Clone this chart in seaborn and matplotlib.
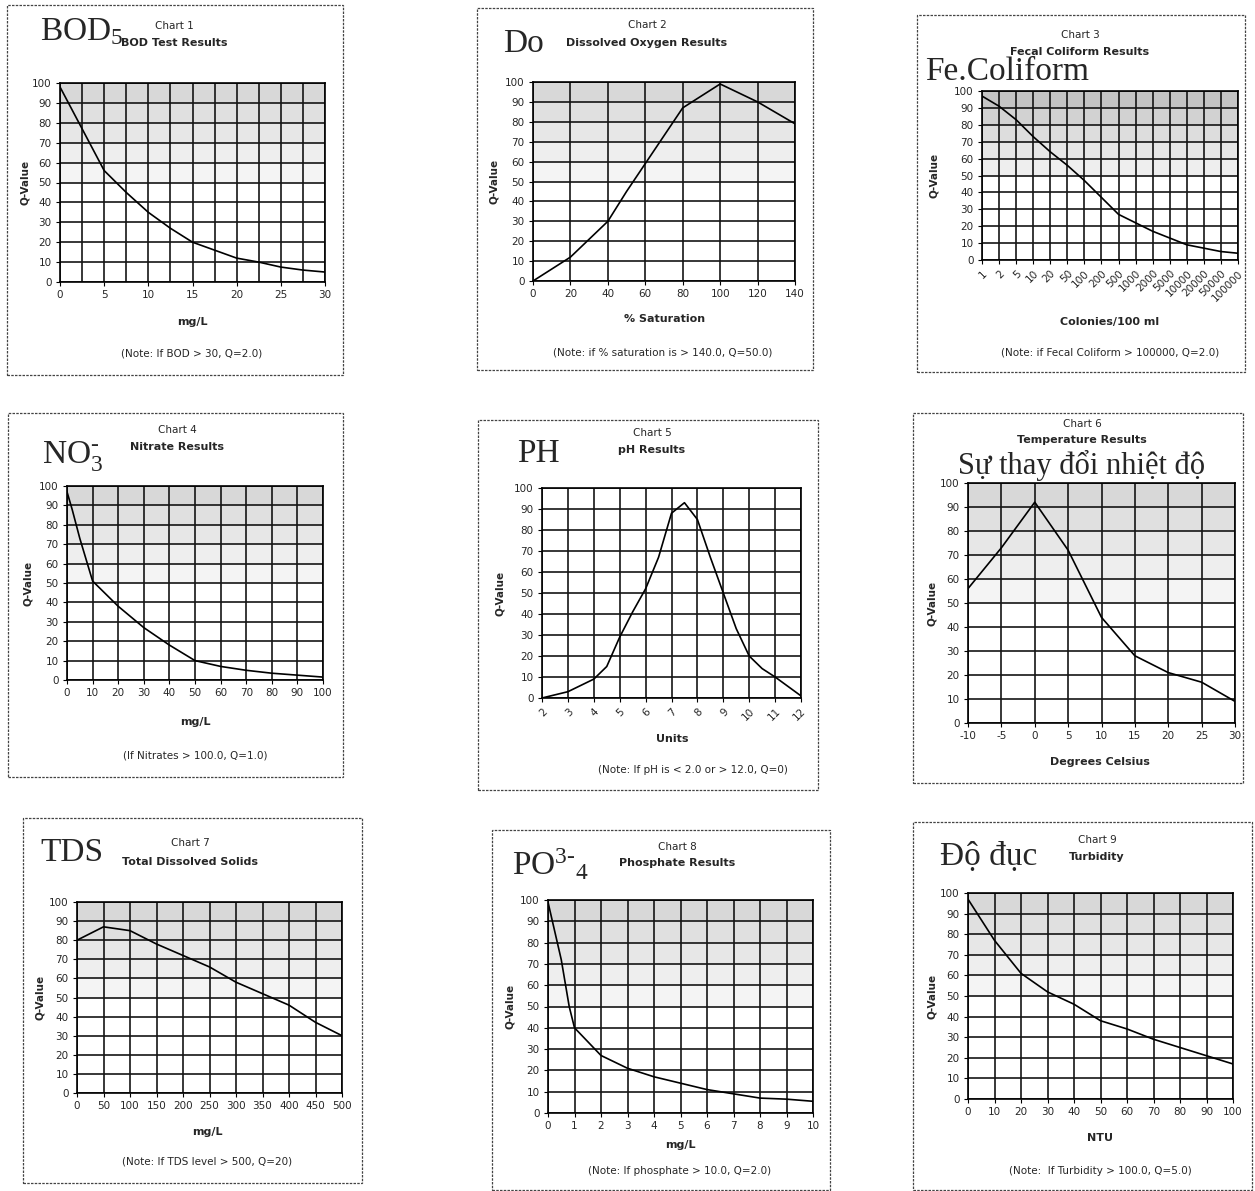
import numpy as np
import matplotlib
matplotlib.use("Agg")
import matplotlib.pyplot as plt
import seaborn as sns
from matplotlib.patches import Rectangle

W, H = 1255, 1191

# ---------------------------------------------------------------- data
bod_x = [0, 2.5, 5, 7.5, 10, 12.5, 15, 17.5, 20, 22.5, 25, 27.5, 30]
bod_q = [98, 77, 56, 45, 35, 27, 20, 16, 12, 10, 7.5, 6, 5]

do_x = [0, 10, 20, 30, 40, 50, 60, 70, 80, 90, 100, 120, 140]
do_q = [0, 6, 12, 21, 30, 45, 59, 73, 87, 93, 99, 90, 79]

fc_labels = ["1", "2", "5", "10", "20", "50", "100", "200", "500", "1000",
             "2000", "5000", "10000", "20000", "50000", "100000"]
fc_q = [97, 91, 83, 73, 64, 56, 47, 37, 27, 22, 17, 13, 9, 7, 5, 4]

no3_x = [0, 2, 5, 10, 20, 30, 40, 50, 60, 70, 80, 90, 100]
no3_q = [97, 88, 73, 51, 38, 27, 18, 10, 7, 5, 3.5, 2.5, 1.5]

ph_x = [2, 3, 4, 4.5, 5, 5.5, 6, 6.5, 7, 7.5, 8, 8.5, 9, 9.5, 10, 10.5, 11, 12]
ph_q = [0, 3, 9, 15, 29, 41, 52, 67, 88, 93, 85, 67, 50, 33, 20, 14, 10, 1]

temp_x = [-10, -5, 0, 5, 10, 15, 20, 25, 30]
temp_q = [56, 73, 92, 72, 44, 28, 21, 17, 9]

tds_x = [0, 50, 100, 150, 200, 250, 300, 350, 400, 450, 500]
tds_q = [80, 87, 85, 78, 72, 66, 58, 52, 46, 37, 30]

po4_x = [0, 0.5, 0.8, 1, 2, 3, 4, 5, 6, 7, 8, 9, 10]
po4_q = [99, 72, 50, 40, 27, 21, 17, 14, 11, 9, 7, 6.5, 5.5]

tur_x = [0, 10, 20, 30, 40, 50, 60, 70, 80, 90, 100]
tur_q = [97, 77, 61, 52, 46, 38, 34, 29, 25, 21, 17]

# ---------------------------------------------------------------- style
sns.set_style("white")
plt.rcParams['font.family'] = ['DejaVu Sans']
plt.rcParams['axes.unicode_minus'] = False
plt.rcParams['mathtext.fontset'] = 'custom'
plt.rcParams['mathtext.rm'] = 'Liberation Serif'
plt.rcParams['mathtext.it'] = 'Liberation Serif:italic'
plt.rcParams['mathtext.bf'] = 'Liberation Serif:bold'

SERIF = ['Liberation Serif', 'DejaVu Serif']
TICK = 7.5
LAB = 8
NOTE = 7.5
BIG = 24

fig = plt.figure(figsize=(W / 100, H / 100), dpi=100)
fig.patch.set_facecolor('white')


def fx(x):
    return x / W


def fy(y):
    return 1 - y / H


def ftext(x, y, s, **kw):
    fig.text(fx(x), fy(y), s, **kw)


def chart(box, axbox, x, y, big, big_pos, num, title, title_cx, title_y,
          xlabel, xlabel_pos, note=None, note_pos=None, xlim=None,
          major=None, minor=None, shade="normal", ylab_x=None,
          rot_labels=None, big_size=BIG):
    # panel frame
    l, t, r, b = box
    fig.add_artist(Rectangle((fx(l), fy(b)), fx(r - l), (b - t) / H,
                             transform=fig.transFigure, fill=False,
                             ec='#444444', lw=0.9, ls=(0, (2, 1))))
    al, at, ar, ab = axbox
    ax = fig.add_axes([fx(al), fy(ab), fx(ar - al), (ab - at) / H])

    # stippled grey background, darker toward the top
    if shade == "normal":
        greys = ['#f4f4f4', '#eeeeee', '#e7e7e7', '#e0e0e0', '#d8d8d8']
    elif shade == "dark":
        greys = ['#eeeeee', '#e6e6e6', '#dddddd', '#d2d2d2', '#c4c4c4']
    else:
        greys = []
    for i, c in enumerate(greys):
        ax.axhspan(50 + 10 * i, 60 + 10 * i, color=c, lw=0, zorder=0)

    sns.lineplot(x=x, y=y, ax=ax, color='black', lw=1.2, zorder=5,
                 sort=False)

    ax.set_ylim(0, 100)
    ax.set_yticks(np.arange(0, 101, 10))
    if xlim is not None:
        ax.set_xlim(*xlim)
    if major is not None:
        ax.set_xticks(major)
    if minor is not None:
        ax.set_xticks(minor, minor=True)
    if rot_labels is not None:
        ax.set_xticks(range(len(rot_labels)))
        ax.set_xticklabels(rot_labels, rotation=45, ha='right',
                           rotation_mode='anchor')

    ax.grid(True, which='both', color='#151515', lw=1.2, zorder=1)
    ax.set_axisbelow(True)
    for sp in ax.spines.values():
        sp.set_color('black')
        sp.set_linewidth(1.2)
    ax.tick_params(axis='both', which='major', direction='out', length=3,
                   width=0.8, labelsize=TICK, pad=3, color='black',
                   left=True, bottom=True)
    ax.tick_params(axis='x', which='minor', length=0)
    ax.set_xlabel('')
    ax.set_ylabel('')

    # labels around the plot
    if ylab_x is None:
        ylab_x = al - 37
    ftext(ylab_x, (at + ab) / 2, 'Q-Value', rotation=90, ha='center',
          va='center', fontsize=LAB - 0.5, fontweight='bold')
    ftext(big_pos[0], big_pos[1], big, family=SERIF, fontsize=big_size,
          ha=big_pos[2] if len(big_pos) > 2 else 'left', va='baseline')
    ftext(title_cx, title_y[0], num, ha='center', va='center',
          fontsize=NOTE)
    ftext(title_cx, title_y[1], title, ha='center', va='center',
          fontsize=LAB, fontweight='bold')
    ftext(xlabel_pos[0], xlabel_pos[1], xlabel, ha='center', va='center',
          fontsize=LAB, fontweight='bold')
    if note is not None:
        ftext(note_pos[0], note_pos[1], note, ha='center', va='center',
              fontsize=NOTE)
    return ax


# Chart 1
chart((7, 5, 343, 375), (60, 83, 325, 282), bod_x, bod_q,
      'BOD$_5$', (40, 40), 'Chart 1', 'BOD Test Results', 174, (26, 43),
      'mg/L', (192, 322), '(Note: If BOD > 30, Q=2.0)', (192, 353),
      xlim=(0, 30), major=np.arange(0, 31, 5), minor=np.arange(0, 31, 2.5),
      ylab_x=25)

# Chart 2
chart((477, 8, 813, 370), (533, 82, 795, 281), do_x, do_q,
      'Do', (503, 52), 'Chart 2', 'Dissolved Oxygen Results', 647, (25, 43),
      '% Saturation', (665, 319),
      '(Note: if % saturation is > 140.0, Q=50.0)', (663, 352),
      xlim=(0, 140), major=np.arange(0, 141, 20), ylab_x=494)

# Chart 3
chart((917, 15, 1245, 372), (982, 91, 1238, 260), fc_labels, fc_q,
      'Fe.Coliform', (925, 80), 'Chart 3', 'Fecal Coliform Results', 1080,
      (35, 52), 'Colonies/100 ml', (1110, 322),
      '(Note: if Fecal Coliform > 100000, Q=2.0)', (1110, 352),
      xlim=(0, 15), shade="dark", ylab_x=934, rot_labels=fc_labels)

# Chart 4
chart((8, 413, 343, 777), (67, 486, 323, 680), no3_x, no3_q,
      'NO$^{\\text{-}}_{3}$', (42, 463), 'Chart 4', 'Nitrate Results', 177,
      (430, 447), 'mg/L', (195, 722), '(If Nitrates > 100.0, Q=1.0)',
      (195, 755), xlim=(0, 100), major=np.arange(0, 101, 10), ylab_x=28)

# Chart 5
ax5 = chart((478, 420, 818, 790), (542, 488, 801, 698), ph_x, ph_q,
            'PH', (517, 462), 'Chart 5', 'pH Results', 652, (433, 450),
            'Units', (672, 739), '(Note: If pH is < 2.0 or > 12.0, Q=0)',
            (693, 770), xlim=(2, 12), major=np.arange(2, 13, 1),
            shade="none", ylab_x=500)
ax5.set_xticklabels([str(v) for v in range(2, 13)], rotation=45,
                    ha='right', rotation_mode='anchor')

# Chart 6
chart((913, 413, 1243, 783), (968, 483, 1235, 723), temp_x, temp_q,
      'Sự thay đổi nhiệt độ', (1082, 474, 'center'), 'Chart 6',
      'Temperature Results', 1082, (424, 440), 'Degrees Celsius',
      (1100, 762), xlim=(-10, 30), major=np.arange(-10, 31, 5), ylab_x=932,
      big_size=22)

# Chart 7
chart((23, 818, 362, 1183), (77, 902, 342, 1093), tds_x, tds_q,
      'TDS', (40, 861), 'Chart 7', 'Total Dissolved Solids', 190,
      (843, 862), 'mg/L', (207, 1132), '(Note: If TDS level > 500, Q=20)',
      (207, 1162), xlim=(0, 500), major=np.arange(0, 501, 50), ylab_x=40)

# Chart 8
chart((492, 830, 830, 1190), (548, 900, 813, 1113), po4_x, po4_q,
      'PO$^{3\\text{-}}$$_{4}$', (512, 875), 'Chart 8', 'Phosphate Results',
      677, (847, 863), 'mg/L', (680, 1145),
      '(Note: If phosphate > 10.0, Q=2.0)', (680, 1171), xlim=(0, 10),
      major=np.arange(0, 11, 1), ylab_x=510)

# Chart 9
chart((913, 822, 1252, 1190), (968, 893, 1233, 1099), tur_x, tur_q,
      'Độ đục', (940, 865), 'Chart 9', 'Turbidity', 1097, (840, 857),
      'NTU', (1100, 1138), '(Note:  If Turbidity > 100.0, Q=5.0)',
      (1100, 1171), xlim=(0, 100), major=np.arange(0, 101, 10), ylab_x=932)

fig.savefig('out.png', dpi=100, facecolor='white')
